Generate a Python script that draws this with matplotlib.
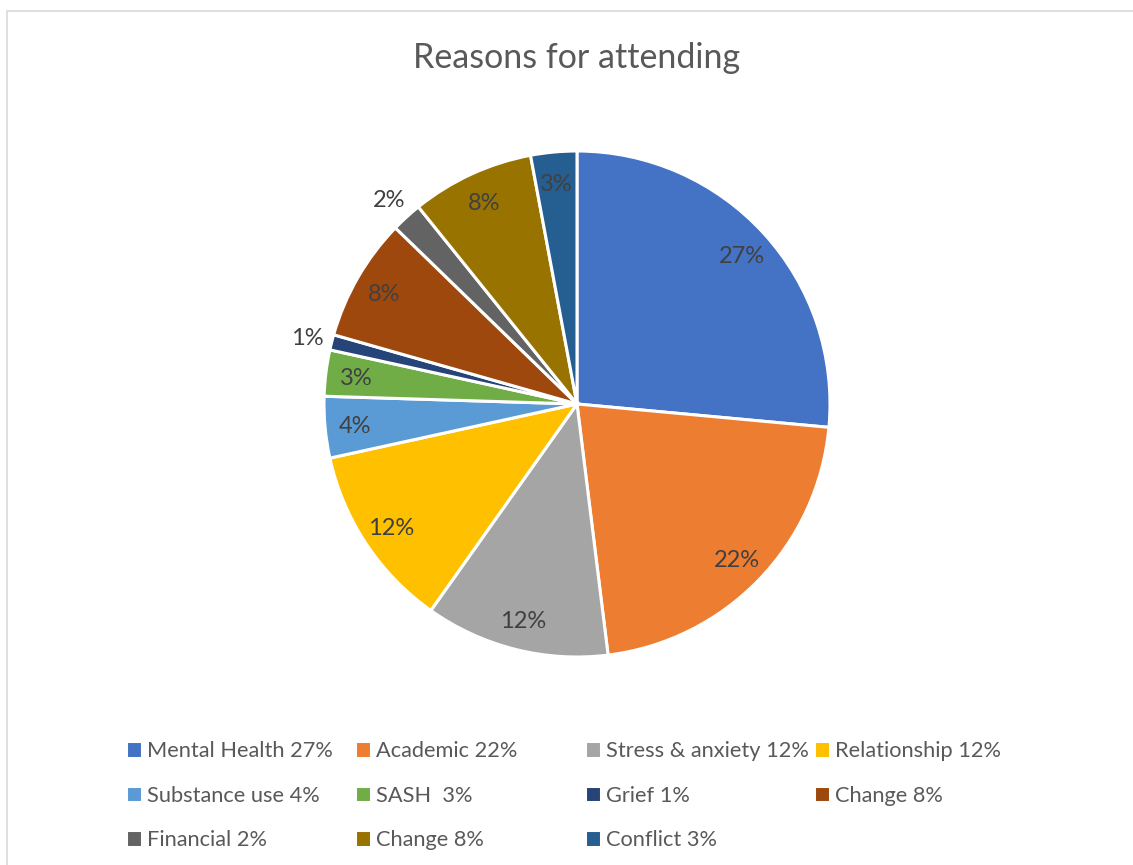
import matplotlib.pyplot as plt
from matplotlib.patches import Rectangle
from matplotlib.transforms import offset_copy
import numpy as np

# Data
categories = ["Mental Health 27%", "Academic 22%", "Stress & anxiety 12%", "Relationship 12%",
              "Substance use 4%", "SASH  3%", "Grief 1%", "Change 8%",
              "Financial 2%", "Change 8%", "Conflict 3%"]
values = [27, 22, 12, 12, 4, 3, 1, 8, 2, 8, 3]
pct_labels = ["27%", "22%", "12%", "12%", "4%", "3%", "1%", "8%", "2%", "8%", "3%"]
outside = [False, False, False, False, False, False, True, False, True, False, False]
colors = ["#4472C4", "#ED7D31", "#A5A5A5", "#FFC000", "#5B9BD5", "#70AD47",
          "#264478", "#9E480E", "#636363", "#997300", "#255E91"]

plt.rcParams['font.family'] = ['Lato', 'DejaVu Sans']

fig = plt.figure(figsize=(11.33, 8.65), dpi=100)

# chart border (light grey frame)
fig.patches.append(Rectangle((7 / 1133, -0.05), 1.2, 1 - 11 / 865 + 0.05,
                             transform=fig.transFigure, fill=False,
                             edgecolor="#D9D9D9", linewidth=1.2))

cx, cy, r = 577 / 1133, 1 - 404 / 865, 253
w, h = 2 * r / 1133, 2 * r / 865
ax = fig.add_axes([cx - w / 2, cy - h / 2, w, h])

wedges, _ = ax.pie(values, colors=colors, startangle=90, counterclock=False,
                   wedgeprops=dict(edgecolor="white", linewidth=2.2))
ax.set_xlim(-1, 1)
ax.set_ylim(-1, 1)
ax.set_aspect("equal")
ax.axis("off")

lab_trans = offset_copy(ax.transData, fig=fig, x=0, y=-2, units="dots")
for wdg, lab, out in zip(wedges, pct_labels, outside):
    ang = np.deg2rad((wdg.theta1 + wdg.theta2) / 2)
    d = 1.10 if out else 0.88
    ax.text(d * np.cos(ang), d * np.sin(ang), lab, ha="center", va="center",
            fontsize=17, color="#404040", transform=lab_trans)

fig.text(577 / 1133, 1 - 58 / 865, "Reasons for attending", ha="center", va="center",
         fontsize=24.5, color="#595959")

# legend: one column each, placed like Excel's grid (4 across, row by row)
col_x = [126, 355, 585, 814]
for j, x in enumerate(col_x):
    idx = list(range(j, len(categories), 4))
    leg = fig.legend([wedges[i] for i in idx], [categories[i] for i in idx],
                     loc="upper left", bbox_to_anchor=(x / 1133, 1 - 741 / 865),
                     frameon=False, fontsize=15.7, handlelength=0.75, handleheight=0.8,
                     handletextpad=0.2, labelspacing=1.13, borderpad=0, borderaxespad=0)
    for t in leg.get_texts():
        t.set_color("#595959")

fig.savefig("out.png", dpi=100)
